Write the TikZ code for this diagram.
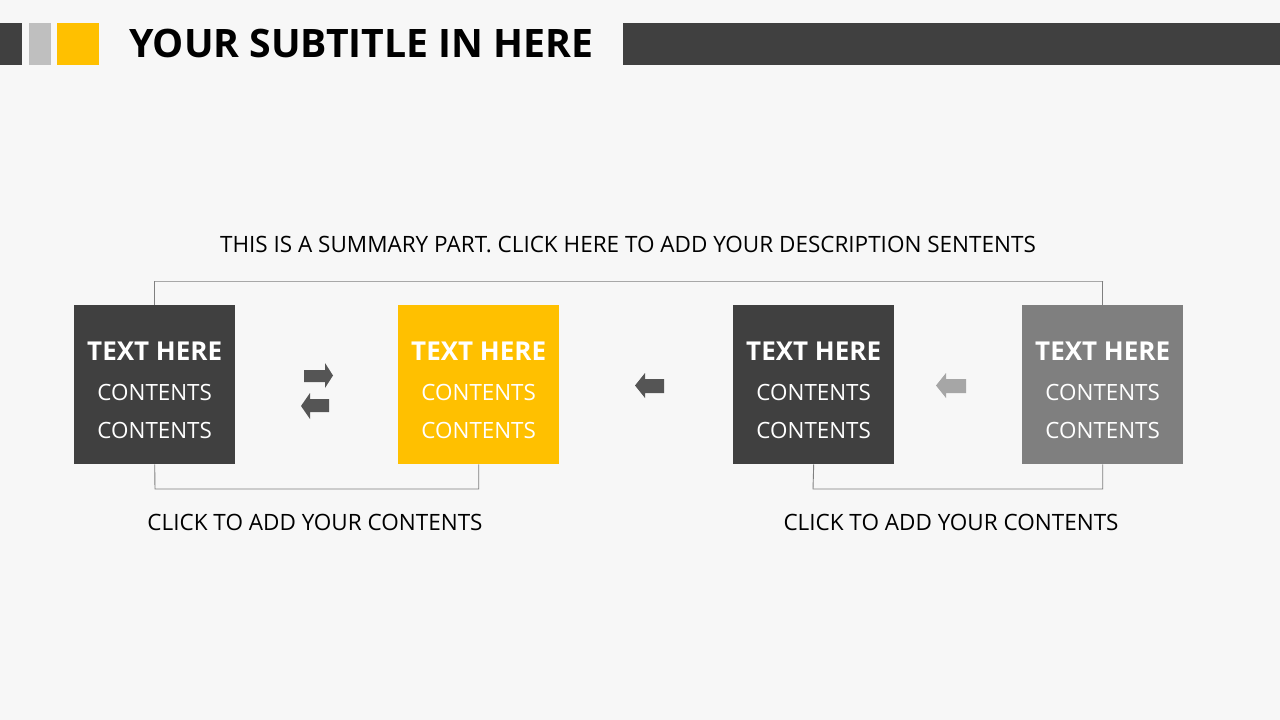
\documentclass[tikz,border=0pt]{standalone}
\usepackage{fontspec}
\setmainfont{Open Sans}
\definecolor{bg}{HTML}{F7F7F7}
\definecolor{dk}{HTML}{404040}
\definecolor{lg}{HTML}{BFBFBF}
\definecolor{yl}{HTML}{FFC000}
\definecolor{md}{HTML}{7F7F7F}
\definecolor{ar}{HTML}{555555}
\definecolor{al}{HTML}{A6A6A6}
\definecolor{ln}{HTML}{7F7F7F}
\begin{document}
\begin{tikzpicture}[x=1pt,y=-1pt,
  card/.style={draw=none,minimum width=161pt,minimum height=159pt,anchor=north west,inner sep=0pt},
  cardtxt/.style={anchor=base,text=white,font=\fontsize{22.4}{26}\selectfont},
  cardhead/.style={anchor=base,text=white,font=\fontsize{26}{30}\selectfont\bfseries},
  lbl/.style={anchor=base,text=black,font=\fontsize{22.5}{26}\selectfont},
  bracket/.style={draw=ln,line width=0.9pt}]
\fill[bg] (0,0) rectangle (1280,720);
\useasboundingbox (0,0) rectangle (1280,720);
% header
\fill[dk] (0,23) rectangle (22,65);
\fill[lg] (29,23) rectangle (51,65);
\fill[yl] (57,23) rectangle (99,65);
\fill[dk] (623,23) rectangle (1280,65);
\node[anchor=base west,inner sep=0pt,font=\fontsize{39.2}{44}\selectfont\bfseries] (title) at (129,57) {YOUR SUBTITLE IN HERE};
% summary
\node[lbl] (sum) at (628,252) {THIS IS A SUMMARY PART. CLICK HERE TO ADD YOUR DESCRIPTION SENTENTS};
% cards
\node[card,fill=dk] (c1) at (74,305) {};
\node[card,fill=yl] (c2) at (398,305) {};
\node[card,fill=dk] (c3) at (733,305) {};
\node[card,fill=md] (c4) at (1022,305) {};
\foreach \c in {c1,c2,c3,c4}{
  \node[cardhead] at ([yshift=24.5pt]\c.center) {TEXT HERE};
  \node[cardtxt] at ([yshift=-15.5pt]\c.center) {CONTENTS};
  \node[cardtxt] at ([yshift=-53.5pt]\c.center) {CONTENTS};
}
% brackets
\coordinate (t1) at (155,281);
\coordinate (t2) at (1103,281);
\draw[bracket] (c1.north) |- (t1) -- (t2) -| (c4.north);
\coordinate (b1) at (155,489);
\draw[bracket] (c1.south) -- (b1) -| (c2.south);
\coordinate (b2) at (813,489);
\draw[bracket] (c3.south) -- (b2) -| (c4.south);
\node[lbl] (l1) at (315,530) {CLICK TO ADD YOUR CONTENTS};
\node[lbl] (l2) at (951,530) {CLICK TO ADD YOUR CONTENTS};
% arrows
\fill[ar] (304,370) -- (325,370) -- (325,363) -- (333,375.5) -- (325,388) -- (325,382) -- (304,382) -- cycle;
\fill[ar] (329,399) -- (310,399) -- (310,393) -- (301,406) -- (310,419) -- (310,412) -- (329,412) -- cycle;
\fill[ar] (664,379) -- (645,379) -- (645,373) -- (635,385.5) -- (645,398) -- (645,393) -- (664,393) -- cycle;
\fill[al] (966,379) -- (946,379) -- (946,373) -- (936,385.5) -- (946,398) -- (946,393) -- (966,393) -- cycle;
\end{tikzpicture}
\end{document}
